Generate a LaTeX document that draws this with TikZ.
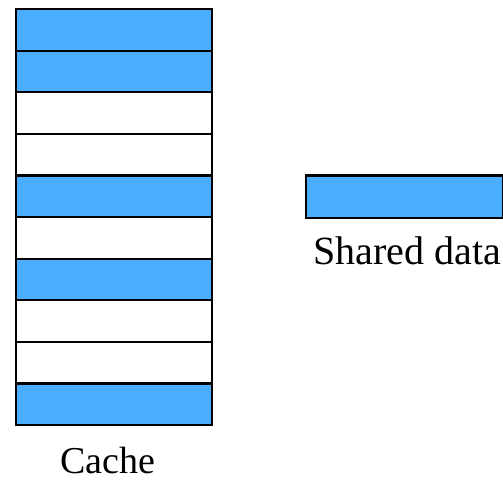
\documentclass[tikz,border=0pt]{standalone}
\usepackage{fontspec}
\setmainfont{Liberation Serif}
\definecolor{lineblue}{RGB}{74,173,255}
\tikzset{
  cell/.style={draw=black, line width=2.2bp, minimum width=196bp, minimum height=41.6bp, inner sep=0pt, anchor=north west},
  full/.style={cell, fill=lineblue},
  empty/.style={cell, fill=white},
  caption/.style={font=\fontsize{38bp}{40bp}\selectfont, inner sep=0pt, anchor=base}
}
\begin{document}
\begin{tikzpicture}[x=1bp, y=-1bp]
  \useasboundingbox (0,0) rectangle (503,481);
  % cache lines, top to bottom
  \node[full]  (c1)  at (15,8) {};
  \node[full]  (c2)  at (15,49.6) {};
  \node[empty] (c3)  at (15,91.2) {};
  \node[empty] (c4)  at (15,132.8) {};
  \node[full]  (c5)  at (15,174.4) {};
  \node[empty] (c6)  at (15,216) {};
  \node[full]  (c7)  at (15,257.6) {};
  \node[empty] (c8)  at (15,299.2) {};
  \node[empty] (c9)  at (15,340.8) {};
  \node[full]  (c10) at (15,382.4) {};
  \node[caption] (cache) at (108,473) {Cache};
  % shared line
  \node[full, minimum width=197bp, minimum height=42bp] (shared) at (304.5,174.5) {};
  \node[caption, font=\fontsize{40bp}{42bp}\selectfont] (sharedlbl) at (407,264) {Shared data};
\end{tikzpicture}
\end{document}
